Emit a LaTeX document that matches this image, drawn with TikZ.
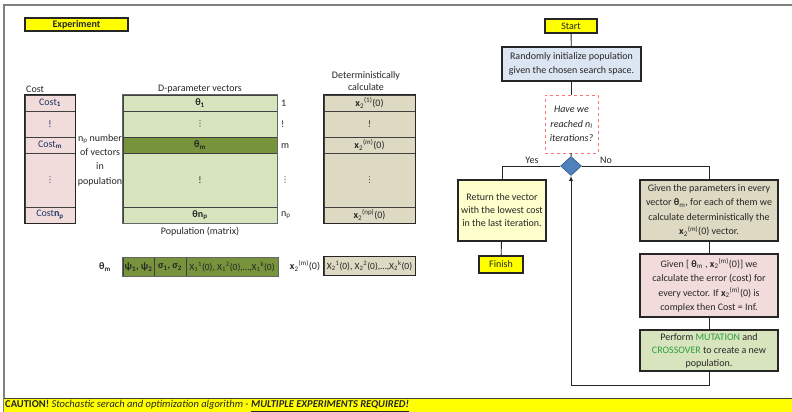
\documentclass[tikz,border=0pt]{standalone}
\usepackage{fontspec}
\setmainfont{Carlito}
\newfontfamily\dejavu{DejaVu Sans}
\usetikzlibrary{shapes.geometric,arrows.meta}
\definecolor{yel}{HTML}{FFFF00}
\definecolor{costc}{HTML}{F2DCDB}
\definecolor{lgreen}{HTML}{D7E4BD}
\definecolor{dgreen}{HTML}{77933C}
\definecolor{tan}{HTML}{DDD9C3}
\definecolor{lblue}{HTML}{DCE6F2}
\definecolor{lyel}{HTML}{FFFFCC}
\definecolor{dia}{HTML}{4F81BD}
\definecolor{gtext}{HTML}{2E9E3E}
\definecolor{ctext}{HTML}{1F3864}
\definecolor{frame}{HTML}{808080}
\newcommand{\vdts}{{\dejavu\fontsize{8}{9}\selectfont ⋮}}
\newcommand{\xtwo}[1]{\textbf{x}\textsubscript{2}\textsuperscript{(#1)}(0)}
\begin{document}
\begin{tikzpicture}[x=1pt,y=-1pt,
  every node/.style={font=\fontsize{10}{12}\selectfont, text=black!85},
  cell/.style={draw=black!75, line width=0.6pt, inner sep=0pt},
  outer/.style={draw=black!85, line width=1.2pt},
  box/.style={draw=black!85, line width=1.1pt, inner sep=1pt, align=center},
  lbl/.style={inner sep=0pt},
  conn/.style={draw=black!85, line width=0.9pt}]
\useasboundingbox (0,0) rectangle (792,412);
% frame
\draw[frame, line width=1.2pt] (4,412) -- (4,5) -- (792,5);
% caution bar
\fill[yel] (4,399) rectangle (792,412);
\draw[black!75, line width=0.8pt] (4,398.5) -- (792,398.5);
\node[lbl, anchor=west, font=\fontsize{10.5}{12}\selectfont] (caution) at (5,406) {\textbf{CAUTION!} \textit{Stochastic serach and optimization algorithm - \underline{\textbf{MULTIPLE EXPERIMENTS REQUIRED!}}}};
% experiment
\node[box, fill=yel, minimum width=103pt, minimum height=13pt, inner sep=0pt] (exp) at (76.5,24.5) {\textbf{Experiment}};
% cost column
\node[lbl, anchor=west] (costlbl) at (26,89) {Cost};
\begin{scope}[every node/.append style={text=ctext}]
\node[cell, fill=costc, minimum width=50pt, minimum height=16pt] (c1) at (50,103) {Cost\textsubscript{\textbf{1}}};
\node[cell, fill=costc, minimum width=50pt, minimum height=26pt] (c2) at (50,124) {!};
\node[cell, fill=costc, minimum width=50pt, minimum height=16pt] (c3) at (50,145) {Cost\textsubscript{\textbf{m}}};
\node[cell, fill=costc, minimum width=50pt, minimum height=54pt] (c4) at (50,180) {\vdts};
\node[cell, fill=costc, minimum width=50pt, minimum height=16pt] (c5) at (50,215) {Cost\textbf{n\textsubscript{p}}};
\end{scope}
\draw[outer] (c1.north west) rectangle (c5.south east);
\node[lbl, align=center, font=\fontsize{10}{14.3}\selectfont] (np) at (100,160) {n\textsubscript{p} number\\of vectors\\in\\population};
% matrix
\node[lbl] (dlbl) at (200,89) {D-parameter vectors};
\node[cell, fill=lgreen, minimum width=154pt, minimum height=16pt] (m1) at (200,103) {\textbf{θ\textsubscript{1}}};
\node[cell, fill=lgreen, minimum width=154pt, minimum height=26pt] (m2) at (200,124) {\vdts};
\node[cell, fill=dgreen, minimum width=154pt, minimum height=16pt] (m3) at (200,145) {\textbf{θ\textsubscript{m}}};
\node[cell, fill=lgreen, minimum width=154pt, minimum height=54pt] (m4) at (200,180) {!};
\node[cell, fill=lgreen, minimum width=154pt, minimum height=16pt] (m5) at (200,215) {\textbf{θn\textsubscript{p}}};
\draw[outer, draw=black!60] (m1.north west) rectangle (m5.south east);
\node[lbl] (plbl) at (200,232) {Population (matrix)};
\node[lbl, anchor=west] (i1) at (281,103) {1};
\node[lbl, anchor=west] (i2) at (281,124) {!};
\node[lbl, anchor=west] (i3) at (281,146) {m};
\node[lbl, anchor=west] (i4) at (281,180) {\vdts};
\node[lbl, anchor=west] (i5) at (281,215) {n\textsubscript{p}};
% deterministic column
\node[lbl, align=center, font=\fontsize{10}{12.5}\selectfont] (detlbl) at (366,81) {Deterministically\\calculate};
\node[cell, fill=tan, minimum width=91pt, minimum height=16pt] (d1) at (369.5,103) {\xtwo{1}};
\node[cell, fill=tan, minimum width=91pt, minimum height=26pt] (d2) at (369.5,124) {!};
\node[cell, fill=tan, minimum width=91pt, minimum height=16pt] (d3) at (369.5,145) {\xtwo{m}};
\node[cell, fill=tan, minimum width=91pt, minimum height=54pt] (d4) at (369.5,180) {\vdts};
\node[cell, fill=tan, minimum width=91pt, minimum height=16pt] (d5) at (369.5,215) {\xtwo{np}};
\draw[outer] (d1.north west) rectangle (d5.south east);
% bottom row
\node[lbl] (thm) at (105,267) {\textbf{θ\textsubscript{m}}};
\node[cell, fill=dgreen, minimum width=31pt, minimum height=19pt] (b1) at (138.5,267) {\textbf{ψ\textsubscript{1}, ψ\textsubscript{2}}};
\node[cell, fill=dgreen, minimum width=32pt, minimum height=19pt] (b2) at (170,267) {\textbf{σ\textsubscript{1}, σ\textsubscript{2}}};
\node[cell, fill=dgreen, minimum width=92pt, minimum height=19pt, font=\fontsize{9.5}{11}\selectfont] (b3) at (232,267) {X\textsubscript{1}\textsuperscript{1}(0), X\textsubscript{1}\textsuperscript{2}(0),…,X\textsubscript{1}\textsuperscript{k}(0)};
\draw[outer, draw=black!60] (b1.north west) rectangle (b3.south east);
\node[lbl] (xm) at (305,266) {\xtwo{m}};
\node[cell, fill=tan, minimum width=91pt, minimum height=19pt, font=\fontsize{9.5}{11}\selectfont] (bx) at (369.5,266) {X\textsubscript{2}\textsuperscript{1}(0), X\textsubscript{2}\textsuperscript{2}(0),…,X\textsubscript{2}\textsuperscript{k}(0)};
\draw[outer] (bx.north west) rectangle (bx.south east);
% flowchart
\node[box, fill=yel, minimum width=52pt, minimum height=14pt, inner sep=0pt] (start) at (571,26) {Start};
\node[box, fill=lblue, minimum width=139pt, minimum height=34pt, font=\fontsize{10}{14}\selectfont] (init) at (571.5,64) {Randomly initialize population\\given the chosen search space.};
\node[draw=red!55, dashed, line width=0.5pt, fill=white, minimum width=53pt, minimum height=58pt, align=center, inner sep=0pt, font=\fontsize{10}{14.3}\selectfont\itshape] (check) at (571.5,124) {Have we\\reached n\textsubscript{I}\\iterations?};
\node[diamond, fill=dia, draw=dia!70!black, line width=0.6pt, minimum width=21pt, minimum height=19pt, inner sep=0pt] (dia) at (571,166) {};
\node[lbl] (yes) at (532,160) {Yes};
\node[lbl] (no) at (606,160) {No};
\node[box, fill=lyel, minimum width=88pt, minimum height=61pt, font=\fontsize{10}{13}\selectfont] (ret) at (502,210.5) {Return the vector\\with the lowest cost\\in the last iteration.};
\node[box, fill=yel, minimum width=44pt, minimum height=17pt, inner sep=0pt] (finish) at (501,264.5) {Finish};
\node[box, fill=tan, minimum width=138pt, minimum height=61pt, font=\fontsize{10}{14.5}\selectfont] (calc) at (709,210.5) {Given the parameters in every\\vector \textbf{θ}\textsubscript{m}, for each of them we\\calculate deterministically the\\\xtwo{m} vector.};
\node[box, fill=costc, minimum width=138pt, minimum height=63pt, font=\fontsize{10}{14.5}\selectfont] (err) at (709,285.5) {Given [ \textbf{θ}\textsubscript{m} ,\ \xtwo{m}] we\\calculate the error (cost) for\\every vector. If \xtwo{m} is\\complex then Cost = Inf.};
\node[box, fill=lgreen, minimum width=138pt, minimum height=41pt, font=\fontsize{10}{13}\selectfont] (mut) at (709,350.5) {Perform \textcolor{gtext}{MUTATION} and\\\textcolor{gtext}{CROSSOVER} to create a new\\population.};
\coordinate (loop) at (709,385);
\draw[conn] (start) -- (init);
\draw[conn] (init) -- (check);
\draw[conn] (check) -- (dia);
\draw[conn] (dia.west) -| (ret.north);
\draw[conn] (ret) -- (finish);
\draw[conn] (dia.east) -| (calc.north);
\draw[conn] (calc) -- (err);
\draw[conn] (err) -- (mut);
\draw[conn, -{Latex[length=5pt,width=4pt]}] (mut.south) -- (loop) -| (dia.south);
\end{tikzpicture}
\end{document}
